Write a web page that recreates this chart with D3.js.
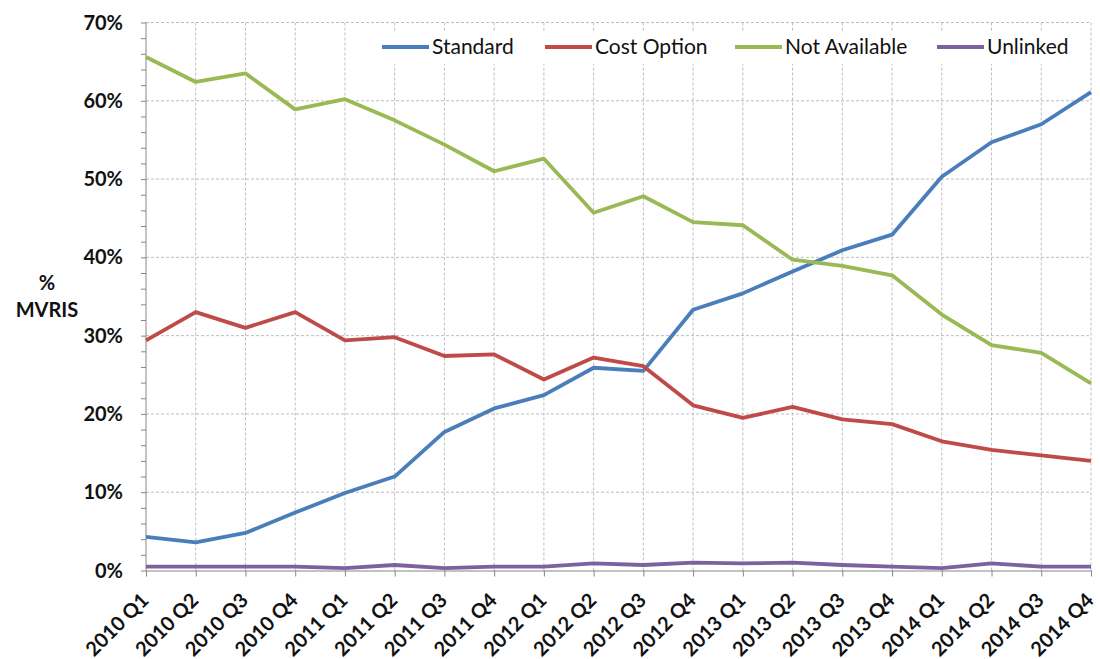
<!DOCTYPE html>
<html>
<head>
<meta charset="utf-8">
<script src="https://cdn.jsdelivr.net/npm/d3@7"></script>
<style>
	body { margin: 0; background: #fff; }
	text { font-family: Lato, "Open Sans", sans-serif; }
</style>
</head>
<body>
<div id="chart"></div>
<script>
let quarters	= ['2010 Q1','2010 Q2','2010 Q3','2010 Q4','2011 Q1','2011 Q2','2011 Q3','2011 Q4',
	'2012 Q1','2012 Q2','2012 Q3','2012 Q4','2013 Q1','2013 Q2','2013 Q3','2013 Q4',
	'2014 Q1','2014 Q2','2014 Q3','2014 Q4'];
let standard	= [4.3, 3.6, 4.8, 7.4, 9.9, 12.0, 17.7, 20.7, 22.4, 25.9, 25.5, 33.3, 35.4, 38.2, 40.9, 42.9, 50.3, 54.7, 57.0, 61.1];
let costOption	= [29.4, 33.0, 31.0, 33.0, 29.4, 29.8, 27.4, 27.6, 24.4, 27.2, 26.1, 21.1, 19.5, 20.9, 19.3, 18.7, 16.5, 15.4, 14.7, 14.0];
let notAvail	= [65.6, 62.4, 63.5, 58.9, 60.2, 57.5, 54.4, 51.0, 52.6, 45.7, 47.8, 44.5, 44.1, 39.7, 38.9, 37.7, 32.7, 28.8, 27.8, 23.9];
let unlinked	= [0.5, 0.5, 0.5, 0.5, 0.3, 0.7, 0.3, 0.5, 0.5, 0.9, 0.7, 1.0, 0.9, 1.0, 0.7, 0.5, 0.3, 0.9, 0.5, 0.5];
let yTicks		= [0, 10, 20, 30, 40, 50, 60, 70];

let series = [
	{ name: 'Standard',      values: standard,   color: '#4a7ebb' },
	{ name: 'Cost Option',   values: costOption, color: '#be4b48' },
	{ name: 'Not Available', values: notAvail,   color: '#98b954' },
	{ name: 'Unlinked',      values: unlinked,   color: '#7d60a0' }
];

let canvasWidth		= 1100;
let canvasHeight	= 659;
let margin			= { top: 22.5, right: 9, bottom: 88.5, left: 146 };
let width			= canvasWidth - margin.left - margin.right;
let height			= canvasHeight - margin.top - margin.bottom;

let x = d3.scalePoint().domain(quarters).range([0, width]);
let y = d3.scaleLinear().domain([0, 70]).range([height, 0]);

let svg = d3.select('#chart').append('svg')
	.attr('width', canvasWidth)
	.attr('height', canvasHeight)
	.append('g')
		.attr('transform', 'translate(' + margin.left + ',' + margin.top + ')');

// grid
svg.append('g').selectAll('line')
	.data(yTicks.slice(1)).enter().append('line')
		.attr('x1', 0).attr('x2', width)
		.attr('y1', (d) => y(d)).attr('y2', (d) => y(d))
		.attr('stroke', '#bdbdbd').attr('stroke-dasharray', '3,2');
svg.append('g').selectAll('line')
	.data(quarters.slice(1)).enter().append('line')
		.attr('x1', (d) => x(d)).attr('x2', (d) => x(d))
		.attr('y1', 0).attr('y2', height)
		.attr('stroke', '#bdbdbd').attr('stroke-dasharray', '3,2');

// y axis
let yAxis = svg.append('g')
	.call(d3.axisLeft(y).tickValues(d3.range(0, 71, 2)).tickSize(5).tickFormat(''));
yAxis.selectAll('path, line').attr('stroke', '#868686');
yAxis.select('.domain').attr('d', 'M0,' + height + 'V0');

svg.append('g').selectAll('text')
	.data(yTicks).enter().append('text')
		.attr('x', -23).attr('y', (d) => y(d) + 7)
		.attr('text-anchor', 'end')
		.attr('font-size', 20).attr('font-weight', 'bold').attr('fill', '#111')
		.text((d) => d + '%');

// x axis
let xAxis = svg.append('g')
	.attr('transform', 'translate(0,' + height + ')')
	.call(d3.axisBottom(x).tickSize(6).tickSizeOuter(0).tickFormat(''));
xAxis.selectAll('path, line').attr('stroke', '#868686');

svg.append('g').selectAll('text')
	.data(quarters).enter().append('text')
		.attr('transform', (d) => 'translate(' + (x(d) + 4) + ',' + (height + 31) + ') rotate(-45)')
		.attr('text-anchor', 'end')
		.attr('font-size', 20).attr('font-weight', 'bold').attr('fill', '#111')
		.text((d) => d);

// y title
svg.append('text')
	.attr('x', -99).attr('y', 267.5)
	.attr('text-anchor', 'middle')
	.attr('font-size', 20).attr('font-weight', 'bold').attr('fill', '#111')
	.text('%');
svg.append('text')
	.attr('x', -99).attr('y', 294.5)
	.attr('text-anchor', 'middle')
	.attr('font-size', 20).attr('font-weight', 'bold').attr('fill', '#111')
	.text('MVRIS');

// lines
let line = d3.line()
	.x((d, i) => x(quarters[i]))
	.y((d) => y(d));

svg.selectAll('.series')
	.data(series).enter().append('path')
		.attr('class', 'series')
		.attr('fill', 'none')
		.attr('stroke', (o) => o.color)
		.attr('stroke-width', 3.8)
		.attr('stroke-linejoin', 'round')
		.attr('d', (o) => line(o.values));

// legend
let legendX = [236, 399, 589, 791];
let legend = svg.append('g').attr('transform', 'translate(0,24.5)');
legend.append('rect')
	.attr('x', 230).attr('y', -16).attr('width', 700).attr('height', 33)
	.attr('fill', '#fff');
let item = legend.selectAll('.item')
	.data(series).enter().append('g')
		.attr('class', 'item')
		.attr('transform', (o, i) => 'translate(' + legendX[i] + ',0)');
item.append('line')
	.attr('x1', 0).attr('x2', 47)
	.attr('stroke', (o) => o.color).attr('stroke-width', 3.8);
item.append('text')
	.attr('x', 50).attr('y', 7)
	.attr('font-size', 21).attr('fill', '#111')
	.text((o) => o.name);
</script>
</body>
</html>
